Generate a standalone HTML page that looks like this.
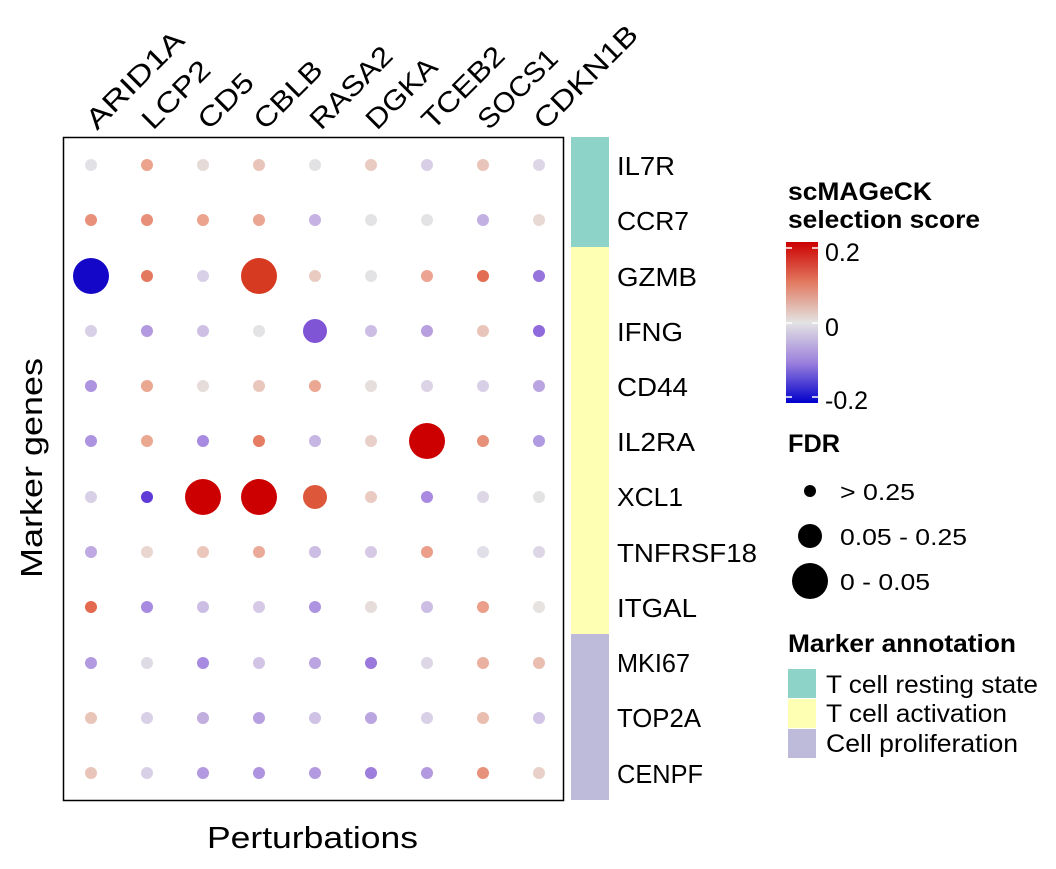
<!DOCTYPE html>
<html><head><meta charset="utf-8"><style>body{margin:0;background:#fff}</style></head><body>
<svg width="1056" height="864" xmlns="http://www.w3.org/2000/svg" font-family="Liberation Sans, Arial, sans-serif">
<rect width="1056" height="864" fill="#fff"/>
<rect x="63.5" y="137.5" width="500" height="663" fill="#fff" stroke="#000" stroke-width="1.5"/>
<rect x="571" y="137" width="38" height="110" fill="#8dd3c7"/>
<rect x="571" y="247" width="38" height="387" fill="#ffffb3"/>
<rect x="571" y="634" width="38" height="166" fill="#bebada"/>
<g font-size="26" fill="#000">
<text x="617" y="175" textLength="58" lengthAdjust="spacingAndGlyphs">IL7R</text><text x="617" y="230" textLength="72" lengthAdjust="spacingAndGlyphs">CCR7</text><text x="617" y="286" textLength="80" lengthAdjust="spacingAndGlyphs">GZMB</text>
<text x="617" y="341" textLength="66" lengthAdjust="spacingAndGlyphs">IFNG</text><text x="617" y="396" textLength="71" lengthAdjust="spacingAndGlyphs">CD44</text><text x="617" y="451" textLength="78" lengthAdjust="spacingAndGlyphs">IL2RA</text>
<text x="617" y="506" textLength="66" lengthAdjust="spacingAndGlyphs">XCL1</text><text x="617" y="562" textLength="140" lengthAdjust="spacingAndGlyphs">TNFRSF18</text><text x="617" y="617" textLength="80" lengthAdjust="spacingAndGlyphs">ITGAL</text>
<text x="617" y="672" textLength="73" lengthAdjust="spacingAndGlyphs">MKI67</text><text x="617" y="727" textLength="84" lengthAdjust="spacingAndGlyphs">TOP2A</text><text x="617" y="783" textLength="86" lengthAdjust="spacingAndGlyphs">CENPF</text>
</g>
<g font-size="28" fill="#000">
<text transform="translate(97,131) rotate(-45)" textLength="126" lengthAdjust="spacingAndGlyphs">ARID1A</text>
<text transform="translate(153,131) rotate(-45)" textLength="84" lengthAdjust="spacingAndGlyphs">LCP2</text>
<text transform="translate(209,131) rotate(-45)" textLength="66" lengthAdjust="spacingAndGlyphs">CD5</text>
<text transform="translate(265,131) rotate(-45)" textLength="84" lengthAdjust="spacingAndGlyphs">CBLB</text>
<text transform="translate(321,131) rotate(-45)" textLength="104" lengthAdjust="spacingAndGlyphs">RASA2</text>
<text transform="translate(377,131) rotate(-45)" textLength="88" lengthAdjust="spacingAndGlyphs">DGKA</text>
<text transform="translate(433,131) rotate(-45)" textLength="104" lengthAdjust="spacingAndGlyphs">TCEB2</text>
<text transform="translate(489,131) rotate(-45)" textLength="100" lengthAdjust="spacingAndGlyphs">SOCS1</text>
<text transform="translate(545,131) rotate(-45)" textLength="134" lengthAdjust="spacingAndGlyphs">CDKN1B</text>
</g>
<text x="207" y="848" font-size="31" textLength="211" lengthAdjust="spacingAndGlyphs">Perturbations</text>
<text transform="translate(42,578) rotate(-90)" font-size="31" textLength="220" lengthAdjust="spacingAndGlyphs">Marker genes</text>
<g font-weight="bold" font-size="25">
<text x="788" y="200" textLength="144" lengthAdjust="spacingAndGlyphs">scMAGeCK</text><text x="788" y="228" textLength="192" lengthAdjust="spacingAndGlyphs">selection score</text>
<text x="788" y="452" textLength="52" lengthAdjust="spacingAndGlyphs">FDR</text>
<text x="788" y="652" textLength="228" lengthAdjust="spacingAndGlyphs">Marker annotation</text>
</g>
<defs><linearGradient id="cb" x1="0" y1="0" x2="0" y2="1">
<stop offset="0" stop-color="#cc0000"/><stop offset="0.25" stop-color="#e27a60"/><stop offset="0.5" stop-color="#e3e3e3"/><stop offset="0.75" stop-color="#9c80dc"/><stop offset="1" stop-color="#0000cc"/></linearGradient></defs>
<rect x="786" y="242" width="32" height="161" fill="url(#cb)"/>
<g stroke="#fff" stroke-width="1.5">
<line x1="786" y1="248" x2="792" y2="248"/><line x1="812" y1="248" x2="818" y2="248"/>
<line x1="786" y1="323" x2="792" y2="323"/><line x1="812" y1="323" x2="818" y2="323"/>
<line x1="786" y1="397" x2="792" y2="397"/><line x1="812" y1="397" x2="818" y2="397"/>
</g>
<g font-size="25"><text x="825" y="261">0.2</text><text x="825" y="336">0</text><text x="825" y="409">-0.2</text></g>
<circle cx="810" cy="491" r="6" fill="#000"/><circle cx="810" cy="536" r="12" fill="#000"/><circle cx="810" cy="581" r="18" fill="#000"/>
<g font-size="23"><text x="840" y="500" textLength="75" lengthAdjust="spacingAndGlyphs">&gt; 0.25</text><text x="840" y="545" textLength="127" lengthAdjust="spacingAndGlyphs">0.05 - 0.25</text><text x="840" y="590" textLength="90" lengthAdjust="spacingAndGlyphs">0 - 0.05</text></g>
<rect x="788" y="669" width="28" height="29" fill="#8dd3c7"/>
<rect x="788" y="699" width="28" height="29" fill="#ffffb3"/>
<rect x="788" y="729" width="28" height="29" fill="#bebada"/>
<g font-size="25"><text x="826" y="693" textLength="212" lengthAdjust="spacingAndGlyphs">T cell resting state</text><text x="826" y="722" textLength="181" lengthAdjust="spacingAndGlyphs">T cell activation</text><text x="826" y="752" textLength="192" lengthAdjust="spacingAndGlyphs">Cell proliferation</text></g>
<g>
<g transform="translate(0,165)"><circle cx="91" r="6" fill="#e2e1e5"/><circle cx="147" r="6" fill="#eba38e"/><circle cx="203" r="6" fill="#e6dad6"/><circle cx="259" r="6" fill="#e9c4b9"/><circle cx="315" r="6" fill="#e2e2e4"/><circle cx="371" r="6" fill="#e9cbc2"/><circle cx="427" r="6" fill="#d8cfe6"/><circle cx="483" r="6" fill="#e9c4b9"/><circle cx="539" r="6" fill="#dcd6e6"/></g>
<g transform="translate(0,220)"><circle cx="91" r="6" fill="#e8907a"/><circle cx="147" r="6" fill="#e88f79"/><circle cx="203" r="6" fill="#eba38e"/><circle cx="259" r="6" fill="#eaa693"/><circle cx="315" r="6" fill="#c6b2e3"/><circle cx="371" r="6" fill="#e3e3e5"/><circle cx="427" r="6" fill="#e3e3e5"/><circle cx="483" r="6" fill="#c2b0e3"/><circle cx="539" r="6" fill="#e8d9d4"/></g>
<g transform="translate(0,276)"><circle cx="91" r="18" fill="#1407c8"/><circle cx="147" r="6" fill="#e37a60"/><circle cx="203" r="6" fill="#d8d0e6"/><circle cx="259" r="18" fill="#d63b22"/><circle cx="315" r="6" fill="#e9cbc2"/><circle cx="371" r="6" fill="#e3e3e5"/><circle cx="427" r="6" fill="#eca391"/><circle cx="483" r="6" fill="#e36d53"/><circle cx="539" r="6" fill="#9674dc"/></g>
<g transform="translate(0,331)"><circle cx="91" r="6" fill="#d8d0e6"/><circle cx="147" r="6" fill="#b39ae0"/><circle cx="203" r="6" fill="#cdc0e4"/><circle cx="259" r="6" fill="#e3e3e5"/><circle cx="315" r="12" fill="#7f55d6"/><circle cx="371" r="6" fill="#cbbde4"/><circle cx="427" r="6" fill="#b8a0e0"/><circle cx="483" r="6" fill="#e9c4b9"/><circle cx="539" r="6" fill="#8e6adc"/></g>
<g transform="translate(0,386)"><circle cx="91" r="6" fill="#ae93e0"/><circle cx="147" r="6" fill="#eba891"/><circle cx="203" r="6" fill="#e6dcd9"/><circle cx="259" r="6" fill="#e9c7bc"/><circle cx="315" r="6" fill="#eba792"/><circle cx="371" r="6" fill="#e6dedd"/><circle cx="427" r="6" fill="#dcd4e6"/><circle cx="483" r="6" fill="#d8d0e6"/><circle cx="539" r="6" fill="#bba5e0"/></g>
<g transform="translate(0,441)"><circle cx="91" r="6" fill="#ae93e0"/><circle cx="147" r="6" fill="#eba891"/><circle cx="203" r="6" fill="#a88be0"/><circle cx="259" r="6" fill="#e67c62"/><circle cx="315" r="6" fill="#c6b6e3"/><circle cx="371" r="6" fill="#e8d0c8"/><circle cx="427" r="18" fill="#cc0000"/><circle cx="483" r="6" fill="#e8917a"/><circle cx="539" r="6" fill="#b09be2"/></g>
<g transform="translate(0,497)"><circle cx="91" r="6" fill="#d8d0e6"/><circle cx="147" r="6" fill="#5f3ad6"/><circle cx="203" r="18" fill="#cc0000"/><circle cx="259" r="18" fill="#cc0000"/><circle cx="315" r="12" fill="#dd573b"/><circle cx="371" r="6" fill="#e9cbc2"/><circle cx="427" r="6" fill="#a98ae0"/><circle cx="483" r="6" fill="#dcd6e6"/><circle cx="539" r="6" fill="#e3e3e3"/></g>
<g transform="translate(0,552)"><circle cx="91" r="6" fill="#bfa9e2"/><circle cx="147" r="6" fill="#e8d6cf"/><circle cx="203" r="6" fill="#eac6bb"/><circle cx="259" r="6" fill="#ebaa98"/><circle cx="315" r="6" fill="#cbbde4"/><circle cx="371" r="6" fill="#d5c9e5"/><circle cx="427" r="6" fill="#eb9f8a"/><circle cx="483" r="6" fill="#e0dee6"/><circle cx="539" r="6" fill="#dcd6e6"/></g>
<g transform="translate(0,607)"><circle cx="91" r="6" fill="#e36a4e"/><circle cx="147" r="6" fill="#a88be0"/><circle cx="203" r="6" fill="#cbbde4"/><circle cx="259" r="6" fill="#d5c9e5"/><circle cx="315" r="6" fill="#ae93e0"/><circle cx="371" r="6" fill="#e6dcd9"/><circle cx="427" r="6" fill="#cbbde4"/><circle cx="483" r="6" fill="#eb9f8a"/><circle cx="539" r="6" fill="#e6e2e0"/></g>
<g transform="translate(0,663)"><circle cx="91" r="6" fill="#b39ae0"/><circle cx="147" r="6" fill="#dedbe5"/><circle cx="203" r="6" fill="#a88be0"/><circle cx="259" r="6" fill="#d1c4e5"/><circle cx="315" r="6" fill="#bba5e0"/><circle cx="371" r="6" fill="#9a78dc"/><circle cx="427" r="6" fill="#dcd6e6"/><circle cx="483" r="6" fill="#eab1a0"/><circle cx="539" r="6" fill="#e9bdb0"/></g>
<g transform="translate(0,718)"><circle cx="91" r="6" fill="#e9c4b9"/><circle cx="147" r="6" fill="#d8d0e6"/><circle cx="203" r="6" fill="#c2addf"/><circle cx="259" r="6" fill="#b8a0e0"/><circle cx="315" r="6" fill="#cfc2e5"/><circle cx="371" r="6" fill="#bba5e0"/><circle cx="427" r="6" fill="#d8d0e6"/><circle cx="483" r="6" fill="#eabdb1"/><circle cx="539" r="6" fill="#d1c4e5"/></g>
<g transform="translate(0,773)"><circle cx="91" r="6" fill="#e9c4b9"/><circle cx="147" r="6" fill="#d8d0e6"/><circle cx="203" r="6" fill="#b39ae0"/><circle cx="259" r="6" fill="#ae93e0"/><circle cx="315" r="6" fill="#b39ae0"/><circle cx="371" r="6" fill="#9e7edc"/><circle cx="427" r="6" fill="#b39ae0"/><circle cx="483" r="6" fill="#e8917a"/><circle cx="539" r="6" fill="#e9d0c9"/></g>
</g>
</svg>
</body></html>
